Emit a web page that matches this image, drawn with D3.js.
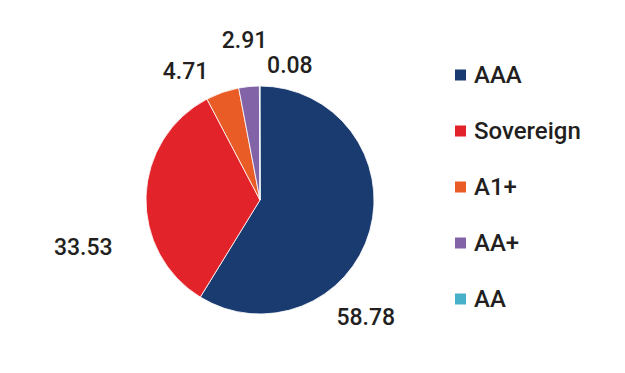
<!DOCTYPE html>
<html>
<head>
<meta charset="utf-8">
<script src="https://cdn.jsdelivr.net/npm/d3@7"></script>
<style>
  body { margin: 0; background: #fff; }
  text { font-family: Roboto, "Noto Sans", sans-serif; fill: #231f20; font-weight: 500; }
</style>
</head>
<body>
<div id="chart"></div>
<script>
// data
var ratings = ["AAA", "Sovereign", "A1+", "AA+", "AA"];
var shares = [58.78, 33.53, 4.71, 2.91, 0.08];
var colors = ["#1a3b6f", "#e3232a", "#ea5c26", "#8363a7", "#48b1ca"];

// label placement (angle in degrees clockwise from top, distance from centre)
var labelAngle = [138, 255, 330, 354.5, 12.5];
var labelDist = [158, 183, 149, 161, 138];

var width = 625, height = 373;
var cx = 260, cy = 200, radius = 114;

var svg = d3.select("#chart").append("svg")
    .attr("width", width)
    .attr("height", height);

var pie = d3.pie().sort(null).value(function(d) { return d; });
var arc = d3.arc().innerRadius(0).outerRadius(radius);

var g = svg.append("g")
    .attr("transform", "translate(" + cx + "," + cy + ")");

g.selectAll("path.slice")
  .data(pie(shares))
  .enter().append("path")
    .attr("class", "slice")
    .attr("d", arc)
    .style("fill", function(d, i) { return colors[i]; })
    .style("stroke", "#fff")
    .style("stroke-width", 0.8);

// value labels
g.selectAll("text.val")
  .data(shares)
  .enter().append("text")
    .attr("class", "val")
    .attr("x", function(d, i) { return labelDist[i] * Math.sin(labelAngle[i] * Math.PI / 180); })
    .attr("y", function(d, i) { return -labelDist[i] * Math.cos(labelAngle[i] * Math.PI / 180); })
    .attr("dy", "0.35em")
    .attr("text-anchor", "middle")
    .style("font-size", "23px")
    .text(function(d) { return d.toFixed(2); });

// legend
var legend = d3.scaleBand()
    .domain(ratings)
    .range([47, 327]);

var items = svg.selectAll("g.legend")
  .data(ratings)
  .enter().append("g")
    .attr("class", "legend")
    .attr("transform", function(d) { return "translate(455," + (legend(d) + legend.bandwidth() / 2) + ")"; });

items.append("rect")
    .attr("x", 0)
    .attr("y", -5.5)
    .attr("width", 11)
    .attr("height", 11)
    .style("fill", function(d, i) { return colors[i]; });

items.append("text")
    .attr("x", 19)
    .attr("dy", "0.35em")
    .style("font-size", "24px")
    .text(function(d) { return d; });
</script>
</body>
</html>
